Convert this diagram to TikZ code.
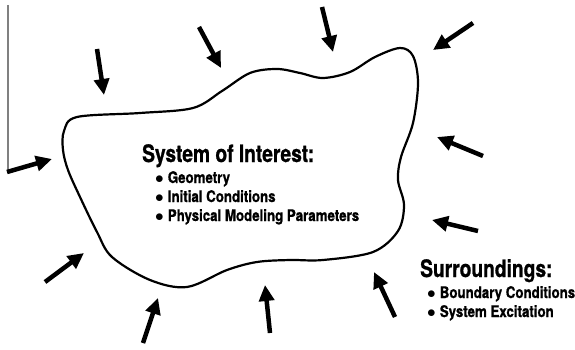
\documentclass[tikz,border=0pt]{standalone}
\usepackage{fontspec}
\newfontfamily\hb{TeX Gyre Heros Bold}[FakeStretch=0.83,FakeBold=0.9]
\newfontfamily\hbt{TeX Gyre Heros Bold}[FakeStretch=0.80,FakeBold=0.9]
\usetikzlibrary{arrows.meta}
\newcommand{\bul}{$\bullet$\hspace{0.25em}}
\begin{document}
\begin{tikzpicture}[x=1pt,y=-1pt,
  push/.style={line width=4.5pt,-{Triangle[length=16pt,width=15pt]}},
  blob/.style={line width=2.2pt,line join=round},
  title/.style={anchor=base west,inner sep=0pt,font=\fontsize{24}{26}\selectfont\hbt},
  item/.style={anchor=base west,inner sep=0pt,font=\fontsize{16}{18}\selectfont\hb}]
\useasboundingbox (0,0) rectangle (575,350);
\fill[white] (0,0) rectangle (575,350);
% left wall line
\draw[gray,line width=1.5pt] (8,5) -- (8,170);
% system boundary
\draw[blob] plot[smooth cycle,tension=0.55] coordinates {
 (77,117) (140,113) (193,108) (222,91) (250,73) (277,69) (300,73) (323,78)
 (350,72) (375,57) (400,48) (413,56) (418,83) (413,123) (401,157) (398,180)
 (404,205) (398,231) (373,252) (323,260) (290,260) (257,262) (227,270)
 (187,287) (150,280) (112,257) (97,232) (80,197) (68,170) (63,150) (64,131)};
% arrows from surroundings
\draw[push] (7,172) -- (52,159);
\draw[push] (97,49) -- (104,95);
\draw[push] (199,27) -- (221,68);
\draw[push] (322,7) -- (333,52);
\draw[push] (473,23) -- (433,50);
\draw[push] (483,156) -- (437,137);
\draw[push] (478,231) -- (432,220);
\draw[push] (395,317) -- (374,272);
\draw[push] (270,333) -- (265,285);
\draw[push] (143,343) -- (158,298);
\draw[push] (45,282) -- (84,253);
% texts
\node[title] (sys) at (142,162) {System of Interest:};
\node[item] (g) at (155,183) {\bul Geometry};
\node[item] (ic) at (155,202) {\bul Initial Conditions};
\node[item] (pm) at (155,221) {\bul Physical Modeling Parameters};
\node[title] (sur) at (420,277) {Surroundings:};
\node[item] (bc) at (427,298) {\bul Boundary Conditions};
\node[item] (se) at (427,317) {\bul System Excitation};
\end{tikzpicture}
\end{document}
